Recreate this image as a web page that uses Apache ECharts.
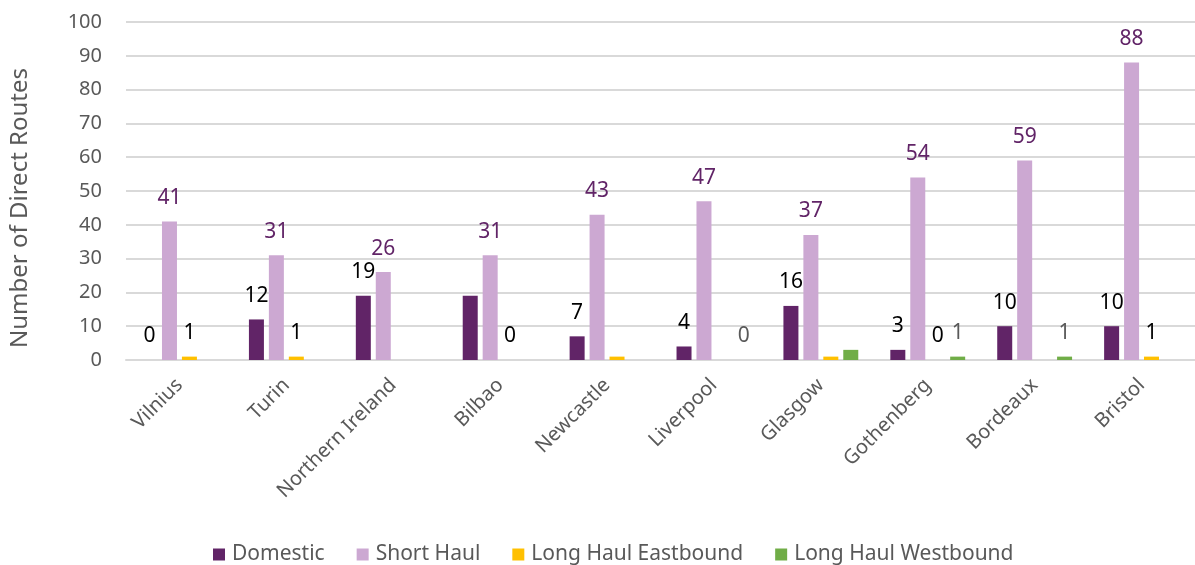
<!DOCTYPE html>
<html>
<head>
<meta charset="utf-8">
<script src="https://cdn.jsdelivr.net/npm/echarts@6/dist/echarts.min.js"></script>
<style>
  html, body { margin: 0; padding: 0; background: #fff; }
  #chart { width: 1195px; height: 565px; }
</style>
</head>
<body>
<div id="chart"></div>
<script>
const cities = ['Vilnius', 'Turin', 'Northern Ireland', 'Bilbao', 'Newcastle', 'Liverpool', 'Glasgow', 'Gothenberg', 'Bordeaux', 'Bristol'];

const domestic = [0, 12, 19, 19, 7, 4, 16, 3, 10, 10];
const shortHaul = [41, 31, 26, 31, 43, 47, 37, 54, 59, 88];
const eastbound = [1, 1, null, 0, 1, null, 1, 0, null, 1];
const westbound = [null, null, null, null, null, 0, 3, 1, 1, null];

// which data labels the original chart shows ('' = no label)
const domesticLabels = ['0', '12', '19', '', '7', '4', '16', '3', '10', '10'];
const shortHaulLabels = ['41', '31', '26', '31', '43', '47', '37', '54', '59', '88'];
const eastboundLabels = ['1', '1', '', '0', '', '', '', '0', '', '1'];
const westboundLabels = ['', '', '', '', '', '0', '', '1', '1', ''];

const FONT = '"Noto Sans", "Open Sans", sans-serif';

function makeSeries(name, values, labels, color, labelColor) {
  return {
    name,
    type: 'bar',
    barWidth: 15,
    barGap: '33%',
    itemStyle: { color },
    label: {
      show: true,
      position: 'top',
      distance: 13,
      color: labelColor,
      fontSize: 21,
      fontFamily: FONT,
      formatter: (p) => labels[p.dataIndex]
    },
    data: values
  };
}

const chart = echarts.init(document.getElementById('chart'));

chart.setOption({
  animation: false,
  grid: { left: 126, right: 0, top: 22, bottom: 205 },
  legend: {
    left: 208,
    top: 539,
    itemWidth: 12,
    itemHeight: 12,
    itemGap: 32,
    icon: 'rect',
    textStyle: { color: '#595959', fontSize: 21, fontFamily: FONT, padding: [0, 0, 0, 2] },
    data: ['Domestic', 'Short Haul', 'Long Haul Eastbound', 'Long Haul Westbound']
  },
  graphic: [{
    type: 'text',
    x: 20,
    y: 208,
    rotation: Math.PI / 2,
    style: {
      text: 'Number of Direct Routes',
      fill: '#595959',
      font: '24px "Noto Sans", sans-serif',
      textAlign: 'center',
      textVerticalAlign: 'middle'
    }
  }],
  xAxis: {
    type: 'category',
    data: cities,
    axisLine: { lineStyle: { color: '#d9d9d9', width: 2 } },
    axisTick: { show: false },
    axisLabel: {
      rotate: 45,
      interval: 0,
      margin: 22,
      color: '#595959',
      fontSize: 20,
      fontFamily: FONT
    }
  },
  yAxis: {
    type: 'value',
    min: 0,
    max: 100,
    interval: 10,
    axisLine: { show: false },
    axisTick: { show: false },
    splitLine: { lineStyle: { color: '#d9d9d9', width: 2 } },
    axisLabel: {
      margin: 24,
      color: '#595959',
      fontSize: 20,
      fontFamily: FONT
    }
  },
  series: [
    makeSeries('Domestic', domestic, domesticLabels, '#612467', '#000000'),
    makeSeries('Short Haul', shortHaul, shortHaulLabels, '#CCA8D2', '#612467'),
    makeSeries('Long Haul Eastbound', eastbound, eastboundLabels, '#FFC000', '#000000'),
    makeSeries('Long Haul Westbound', westbound, westboundLabels, '#70AD47', '#595959')
  ]
});

window.addEventListener('resize', () => chart.resize());
</script>
</body>
</html>
